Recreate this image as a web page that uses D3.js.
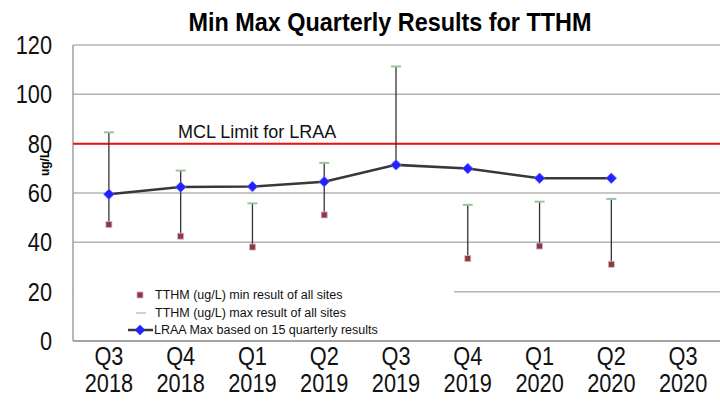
<!DOCTYPE html>
<html>
<head>
	<meta charset='utf-8' />
	<script src="https://d3js.org/d3.v7.min.js"></script>
	<style>
		body {
			margin: 0;
			background: white;
		}

		.narrow {
			font-family: "Liberation Sans Narrow", "Arial Narrow", "Liberation Sans", sans-serif;
		}

		.plain {
			font-family: "Liberation Sans", Arial, sans-serif;
		}
	</style>
</head>

<body>
	<svg id="chart" width="720" height="402"></svg>

	<script>
		// data
		var quarters = ["Q3", "Q4", "Q1", "Q2", "Q3", "Q4", "Q1", "Q2", "Q3"];
		var years = ["2018", "2018", "2019", "2019", "2019", "2019", "2020", "2020", "2020"];
		var minVals = [47.2, 42.5, 38.1, 51.1, 71.4, 33.4, 38.5, 31.1, null];
		var maxVals = [84.6, 69.1, 55.8, 72.2, 111.3, 55.2, 56.5, 57.6, null];
		var lraaVals = [59.5, 62.4, 62.6, 64.6, 71.4, 69.9, 66.0, 66.0, null];
		var mclLimit = 80;
		var yTicks = [0, 20, 40, 60, 80, 100, 120];

		var data = quarters.map((q, i) => ({
			key: q + " " + years[i],
			q: q,
			year: years[i],
			min: minVals[i],
			max: maxVals[i],
			lraa: lraaVals[i]
		}));

		var svg = d3.select("#chart"),
			margin = { top: 45, left: 73, bottom: 61, right: 1 },
			width = +svg.attr("width"),
			height = +svg.attr("height");

		// horizontal squeeze to imitate the narrow face of the original
		var squeeze = 0.87;

		var x = d3.scaleBand()
			.domain(data.map(d => d.key))
			.range([margin.left, width - margin.right]);

		var y = d3.scaleLinear()
			.domain([0, 120])
			.range([height - margin.bottom, margin.top]);

		var cx = d => x(d.key) + x.bandwidth() / 2;

		// gridlines
		svg.append("g")
			.selectAll("line")
			.data(yTicks)
			.enter().append("line")
			.attr("x1", margin.left)
			.attr("x2", width)
			.attr("y1", d => y(d))
			.attr("y2", d => y(d))
			.style("stroke", "#b4b4b4")
			.style("stroke-width", 1.5);

		// left axis line
		svg.append("line")
			.attr("x1", margin.left).attr("x2", margin.left)
			.attr("y1", y(120)).attr("y2", y(0))
			.style("stroke", "#a0a0a0")
			.style("stroke-width", 1.5);

		// y tick labels
		svg.append("g")
			.attr("class", "narrow")
			.selectAll("text")
			.data(yTicks)
			.enter().append("text")
			.attr("transform", d => "translate(52," + y(d) + ") scale(" + squeeze + ",1)")
			.attr("dy", "0.36em")
			.attr("text-anchor", "end")
			.attr("font-size", 25)
			.style("fill", "#111")
			.text(d => d);

		svg.append("text")
			.attr("class", "plain")
			.attr("transform", "translate(49," + y(72) + ") rotate(-90)")
			.attr("text-anchor", "middle")
			.attr("font-size", 12)
			.attr("font-weight", "bold")
			.text("ug/L");

		// x labels
		var xl = svg.append("g")
			.attr("class", "narrow")
			.selectAll("g")
			.data(data)
			.enter().append("g");

		xl.append("text")
			.attr("transform", d => "translate(" + cx(d) + ",365) scale(" + squeeze + ",1)")
			.attr("text-anchor", "middle")
			.attr("font-size", 25)
			.style("fill", "#111")
			.text(d => d.q);

		xl.append("text")
			.attr("transform", d => "translate(" + cx(d) + ",392) scale(" + squeeze + ",1)")
			.attr("text-anchor", "middle")
			.attr("font-size", 25)
			.style("fill", "#111")
			.text(d => d.year);

		// title
		svg.append("text")
			.attr("class", "narrow")
			.attr("transform", "translate(390,31) scale(0.9,1)")
			.attr("text-anchor", "middle")
			.attr("font-size", 26)
			.attr("font-weight", "bold")
			.text("Min Max Quarterly Results for TTHM");

		// MCL limit
		svg.append("line")
			.attr("x1", margin.left).attr("x2", width)
			.attr("y1", y(mclLimit)).attr("y2", y(mclLimit))
			.style("stroke", "#ee1111")
			.style("stroke-width", 2);

		svg.append("text")
			.attr("class", "plain")
			.attr("x", 178)
			.attr("y", y(mclLimit) - 6)
			.attr("font-size", 18)
			.style("fill", "#111")
			.text("MCL Limit for LRAA");

		// legend box (covers part of the 20 gridline)
		var legend = svg.append("g").attr("class", "plain");
		legend.append("rect")
			.attr("x", margin.left + 1)
			.attr("y", 283)
			.attr("width", 380)
			.attr("height", y(0) - 284)
			.style("fill", "white");

		var hl = data.filter(d => d.max != null);

		// high-low lines
		svg.append("g")
			.selectAll("line")
			.data(hl)
			.enter().append("line")
			.attr("x1", cx).attr("x2", cx)
			.attr("y1", d => y(d.max))
			.attr("y2", d => y(d.min))
			.style("stroke", "#333")
			.style("stroke-width", 1.3);

		// max caps
		svg.append("g")
			.selectAll("line")
			.data(hl)
			.enter().append("line")
			.attr("x1", d => cx(d) - 5).attr("x2", d => cx(d) + 5)
			.attr("y1", d => y(d.max))
			.attr("y2", d => y(d.max))
			.style("stroke", "#9cc49c")
			.style("stroke-width", 2);

		// min markers
		svg.append("g")
			.selectAll("rect")
			.data(hl)
			.enter().append("rect")
			.attr("x", d => cx(d) - 3)
			.attr("y", d => y(d.min) - 3)
			.attr("width", 6)
			.attr("height", 6)
			.style("fill", "#953735")
			.style("stroke", "#c8b8d8")
			.style("stroke-width", 0.8);

		// LRAA line
		var pts = data.filter(d => d.lraa != null);
		svg.append("path")
			.datum(pts)
			.attr("d", d3.line().x(cx).y(d => y(d.lraa)))
			.style("fill", "none")
			.style("stroke", "#383838")
			.style("stroke-width", 2.5);

		var diamond = d3.symbol().type(d3.symbolDiamond2 || d3.symbolDiamond).size(70);
		svg.append("g")
			.selectAll("path")
			.data(pts)
			.enter().append("path")
			.attr("transform", d => "translate(" + cx(d) + "," + y(d.lraa) + ")")
			.attr("d", diamond)
			.style("fill", "#2222ff")
			.style("stroke", "#6666ff")
			.style("stroke-width", 0.8);

		// legend entries
		legend.append("rect")
			.attr("x", 137).attr("y", 292)
			.attr("width", 6).attr("height", 6)
			.style("fill", "#953735")
			.style("stroke", "#c8b8d8")
			.style("stroke-width", 0.8);
		legend.append("line")
			.attr("x1", 136).attr("x2", 146)
			.attr("y1", 313).attr("y2", 313)
			.style("stroke", "#c0c0d4")
			.style("stroke-width", 1.5);
		legend.append("line")
			.attr("x1", 128).attr("x2", 153)
			.attr("y1", 330).attr("y2", 330)
			.style("stroke", "#383838")
			.style("stroke-width", 2.5);
		legend.append("path")
			.attr("transform", "translate(140,330)")
			.attr("d", diamond)
			.style("fill", "#2222ff");

		var labels = ["TTHM (ug/L) min result of all sites",
			"TTHM (ug/L) max result of all sites",
			"LRAA Max based on 15 quarterly results"];
		legend.selectAll("text.lab")
			.data(labels)
			.enter().append("text")
			.attr("class", "lab")
			.attr("x", (d, i) => i == 2 ? 154 : 155)
			.attr("y", (d, i) => 295 + i * 17.5)
			.attr("dy", "0.35em")
			.attr("font-size", 12.5)
			.style("fill", "#111")
			.text(d => d);

		// bottom axis line on top of the legend box
		svg.append("line")
			.attr("x1", margin.left).attr("x2", width)
			.attr("y1", y(0)).attr("y2", y(0))
			.style("stroke", "#999")
			.style("stroke-width", 1.5);
	</script>
</body>
</html>
